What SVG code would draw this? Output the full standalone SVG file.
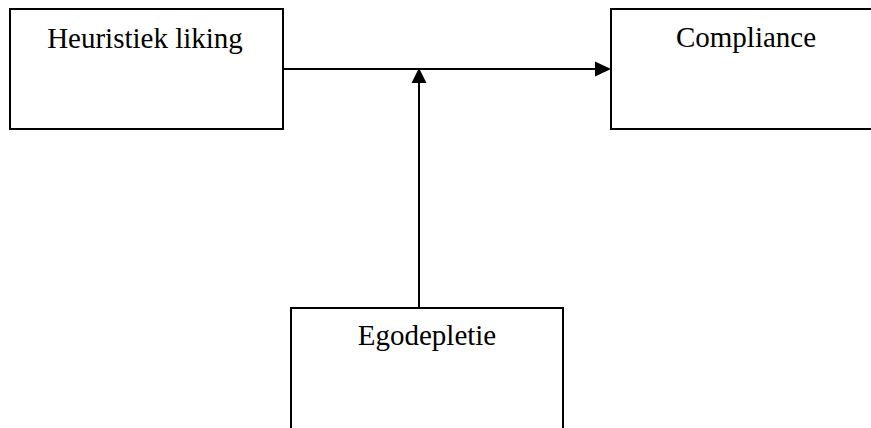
<svg xmlns="http://www.w3.org/2000/svg" width="871" height="428" viewBox="0 0 871 428">
<defs>
<style>
.box{fill:#fff;stroke:#000;stroke-width:2}
.lbl{font-family:"Liberation Serif","Times New Roman",serif;font-size:29px;fill:#000;text-anchor:middle}
.con{fill:none;stroke:#000;stroke-width:2}
</style>
<marker id="ah" markerWidth="8" markerHeight="8" refX="8" refY="4" orient="auto" markerUnits="userSpaceOnUse" viewBox="0 0 8 8">
<path d="M0,0 L8,4 L0,8 Z" fill="#000"/>
</marker>
</defs>
<rect width="871" height="428" fill="#fff"/>
<g id="heuristiek">
<rect class="box" x="10" y="9" width="273" height="120"/>
<text class="lbl" x="145" y="48">Heuristiek liking</text>
</g>
<g id="compliance">
<rect class="box" x="611" y="9" width="280" height="120"/>
<text class="lbl" x="746" y="47">Compliance</text>
</g>
<g id="egodepletie">
<rect class="box" x="291" y="308" width="272" height="140"/>
<text class="lbl" x="427" y="345">Egodepletie</text>
</g>
<g id="connectors">
<line class="con" x1="283" y1="69" x2="595" y2="69"/>
<path d="M595,61.5 L611,69 L595,76.5 Z" fill="#000"/>
<line class="con" x1="419" y1="308" x2="419" y2="83"/>
<path d="M411.5,83 L419,68 L426.5,83 Z" fill="#000"/>
</g>
</svg>
